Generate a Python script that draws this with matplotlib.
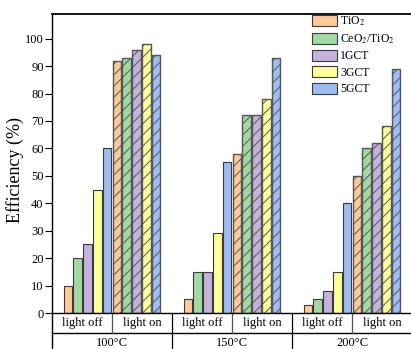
import numpy as np
import matplotlib
matplotlib.use("Agg")
import matplotlib.pyplot as plt
from matplotlib.patches import Patch
import matplotlib.transforms as mtransforms

plt.rcParams['font.family'] = ['Liberation Serif', 'DejaVu Serif']
plt.rcParams['mathtext.fontset'] = 'stix'
plt.rcParams['hatch.linewidth'] = 0.7

temps = ['100°C', '150°C', '200°C']
states = ['light off', 'light on']
samples = ['TiO$_2$', 'CeO$_2$/TiO$_2$', '1GCT', '3GCT', '5GCT']
colors = ['#fdc99b', '#a2d9a2', '#c3b2dc', '#ffff9c', '#9dbdf3']

# efficiency (%) per temperature: [light off x5, light on x5]
eff_100 = [10, 20, 25, 45, 60, 92, 93, 96, 98, 94]
eff_150 = [5, 15, 15, 29, 55, 58, 72, 72, 78, 93]
eff_200 = [3, 5, 8, 15, 40, 50, 60, 62, 68, 89]

fig = plt.figure(figsize=(4.11, 3.49), dpi=100)
ax = fig.add_axes([52/411, 36/349, 360/411, 299/349])

step = 0.0817
bw = 0.071
for k, vals in enumerate([eff_100, eff_150, eff_200]):
    for i, v in enumerate(vals):
        x = k + 0.5 + (i - 4.5) * step
        on = i >= 5
        ax.bar(x, v, width=bw, color=colors[i % 5],
               edgecolor='#3a3a3a' if not on else '#555555',
               linewidth=0.8 if not on else 1.0,
               hatch='///' if on else None, zorder=2)

ax.set_xlim(0, 3)
ax.set_ylim(0, 109)
ax.set_yticks(range(0, 101, 10))
ax.set_xticks([])
ax.tick_params(axis='y', direction='out', length=5, width=0.8, pad=1, labelsize=9)
ax.spines['right'].set_visible(False)
ax.spines['top'].set_linewidth(1.3)
ax.spines['left'].set_linewidth(1.0)
ax.spines['bottom'].set_linewidth(1.0)

# category table under the axis
tr = mtransforms.blended_transform_factory(ax.transData, ax.transAxes)
r1 = -20/299
ax.plot([0, 3.1], [r1, r1], transform=tr, color='black', lw=1.0, clip_on=False)
ax.plot([0, 0], [0, -0.2], transform=tr, color='black', lw=1.0, clip_on=False)
for k in range(3):
    for h in range(2):
        xc = k + 0.25 + 0.5 * h
        ax.text(xc, r1 / 2, states[h], transform=tr, ha='center', va='center', fontsize=9)
    ax.plot([k + 0.5, k + 0.5], [0, r1], transform=tr, color='#555555', lw=0.9, clip_on=False)
    ax.text(k + 0.5, -30/299, temps[k], transform=tr, ha='center', va='center', fontsize=9)
    if k > 0:
        ax.plot([k, k], [0, -0.2], transform=tr, color='black', lw=0.9, clip_on=False)

fig.text(15/411, 1 - 170/349, 'Efficiency (%)', rotation=90, ha='center', va='center', fontsize=13)

handles = [Patch(facecolor=c, edgecolor='#3a3a3a', linewidth=0.8) for c in colors]
ax.legend(handles, samples, loc='upper left', bbox_to_anchor=(312/411, 1 - 15/349),
          bbox_transform=fig.transFigure, frameon=False, fontsize=8.5,
          handlelength=2.1, handleheight=1.05, labelspacing=0.33,
          handletextpad=0.3, borderpad=0, borderaxespad=0)

fig.savefig('out.png', dpi=100)
